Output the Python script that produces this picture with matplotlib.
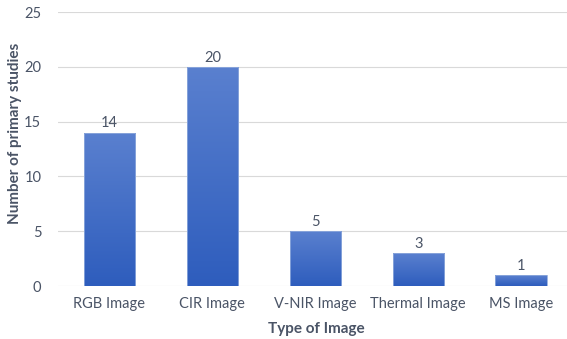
import matplotlib.pyplot as plt
import numpy as np

categories = ["RGB Image", "CIR Image", "V-NIR Image", "Thermal Image", "MS Image"]
counts = [14, 20, 5, 3, 1]
yticks = [0, 5, 10, 15, 20, 25]

plt.rcParams['font.family'] = ['Lato', 'DejaVu Sans']
text_col = "#4a5466"

fig = plt.figure(figsize=(5.67, 3.39), dpi=100)
ax = fig.add_axes([58 / 567, 1 - 286 / 339, 1 - 58 / 567 + 0.01, (286 - 12) / 339])

x = np.arange(len(categories))
bw = 0.5
bars = ax.bar(x, counts, width=bw, color="none", edgecolor="#8faadc", linewidth=0.6, zorder=3)

# vertical gradient fill inside each bar
grad = np.linspace(0, 1, 256).reshape(-1, 1)
cmap = plt.matplotlib.colors.LinearSegmentedColormap.from_list("bluefade", ["#2e5dbd", "#5a80cf"])
for b in bars:
    x0, y0, w, h = b.get_x(), b.get_y(), b.get_width(), b.get_height()
    im = ax.imshow(grad, cmap=cmap, extent=[x0, x0 + w, y0, y0 + h], aspect="auto",
                   origin="lower", zorder=2)
    im.set_clip_path(b)

for xi, v in zip(x, counts):
    ax.text(xi, v + 0.2, str(v), ha="center", va="bottom", fontsize=10.5, color=text_col)

ax.set_xlim(-0.5, len(categories) - 0.5)
ax.set_ylim(0, 25)
ax.set_yticks(yticks)
ax.set_xticks(x)
ax.set_xticklabels(categories)
ax.tick_params(axis="both", length=0, labelsize=10.5, colors=text_col)
ax.tick_params(axis="y", pad=12)
ax.tick_params(axis="x", pad=8)
ax.grid(axis="y", color="#d9d9d9", linewidth=0.8, zorder=0)
ax.set_axisbelow(True)
for s in ax.spines.values():
    s.set_visible(False)

fig.text(15 / 567, 1 - 133 / 339, "Number of primary studies", rotation=90, ha="center", va="center",
         fontsize=11, fontweight="bold", color=text_col)
fig.text(316 / 567, 1 - 329 / 339, "Type of Image", ha="center", va="center",
         fontsize=11, fontweight="bold", color=text_col)

fig.savefig("out.png", dpi=100)
